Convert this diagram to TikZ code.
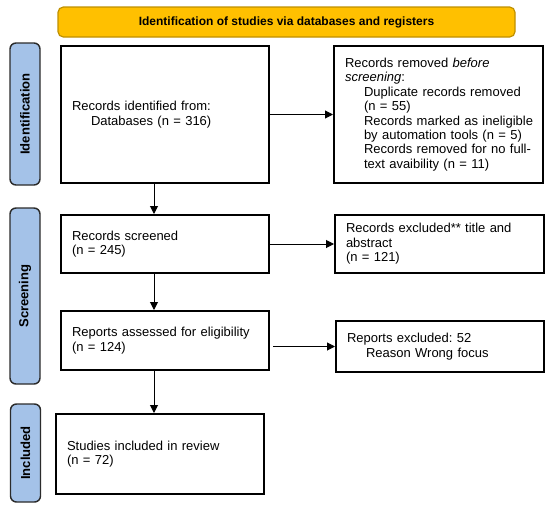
\documentclass[tikz,border=0pt]{standalone}
\usepackage{fontspec}
\setmainfont{Liberation Sans}
\usetikzlibrary{arrows.meta}
\definecolor{bannerfill}{HTML}{FFC000}
\definecolor{bannerdraw}{HTML}{BF9000}
\definecolor{barfill}{HTML}{A4C2E8}
\definecolor{bardraw}{HTML}{2B2B2B}
\newcommand\myind{\hspace*{14.25pt}}
\frenchspacing
\begin{document}
\begin{tikzpicture}[x=0.75pt,y=-0.75pt,
  box/.style={draw=black, line width=1.5pt, fill=white, inner xsep=8.25pt, inner ysep=0pt,
    align=left, font=\fontsize{9.75}{10.8}\selectfont\frenchspacing},
  bar/.style={draw=bardraw, fill=barfill, line width=1.1pt, rounded corners=4.5pt,
    minimum height=22.5pt, inner sep=0pt, rotate=90, font=\bfseries\fontsize{9.8}{11}\selectfont},
  banner/.style={draw=bannerdraw, fill=bannerfill, line width=0.9pt, rounded corners=4pt,
    minimum width=342.75pt, minimum height=22.5pt, inner sep=0pt, font=\bfseries\fontsize{9}{11}\selectfont},
  arr/.style={-{Triangle[length=6pt,width=6pt]}, line width=0.75pt}]
\useasboundingbox (0,0) rectangle (550,507);

\node[banner] (ban) at (286.5,22) {Identification of studies via databases and registers};

\node[bar, minimum width=106.5pt] (bid) at (25,114) {Identification};
\node[bar, minimum width=132pt] (bsc) at (25,296) {Screening};
\node[bar, minimum width=73.5pt] (bin) at (25.5,453) {Included};

\node[box, text width=139.5pt, minimum height=102.75pt] (box1) at (165,114.5)
  {Records identified from:\\ \myind Databases (n = 316)};
\node[box, text width=140.25pt, minimum height=102.75pt] (box2) at (438.5,114.5)
  {Records removed \textit{before}\\
   \textit{screening}:\\
   \myind\mbox{Duplicate records removed}\\
   \myind(n = 55)\\
   \myind\mbox{Records marked as ineligible}\\
   \myind\mbox{by automation tools (n = 5)}\\
   \myind\mbox{Records removed for no full-}\\
   \myind\mbox{text avaibility (n = 11)}};
\node[box, text width=139.5pt, minimum height=43.5pt] (box3) at (165,244)
  {Records screened\\ (n = 245)};
\node[box, text width=140.25pt, minimum height=43.5pt] (box4) at (439.5,244)
  {\mbox{Records excluded** title and}\\ abstract\\ (n = 121)};
\node[box, text width=139.5pt, minimum height=44.25pt] (box5) at (165,340.5)
  {\mbox{Reports assessed for eligibility}\\ (n = 124)};
\node[box, text width=139.5pt, minimum height=38.25pt] (box6) at (440,346.5)
  {Reports excluded: 52\\ \myind Reason Wrong focus};
\node[box, text width=139.5pt, minimum height=60pt] (box7) at (160,454)
  {Studies included in review\\ (n = 72)};

\coordinate (vx) at (154,0);
\draw[arr] (box1.south -| vx) -- (box3.north -| vx);
\draw[arr] (box3.south -| vx) -- (box5.north -| vx);
\draw[arr] (box5.south -| vx) -- (box7.north -| vx);
\draw[arr] (box1.east) -- (box2.west);
\draw[arr] (box3.east) -- (box3.east -| box4.west);
\draw[arr] ([xshift=2.25pt]box5.east |- box6.west) -- (box6.west);
\end{tikzpicture}
\end{document}
